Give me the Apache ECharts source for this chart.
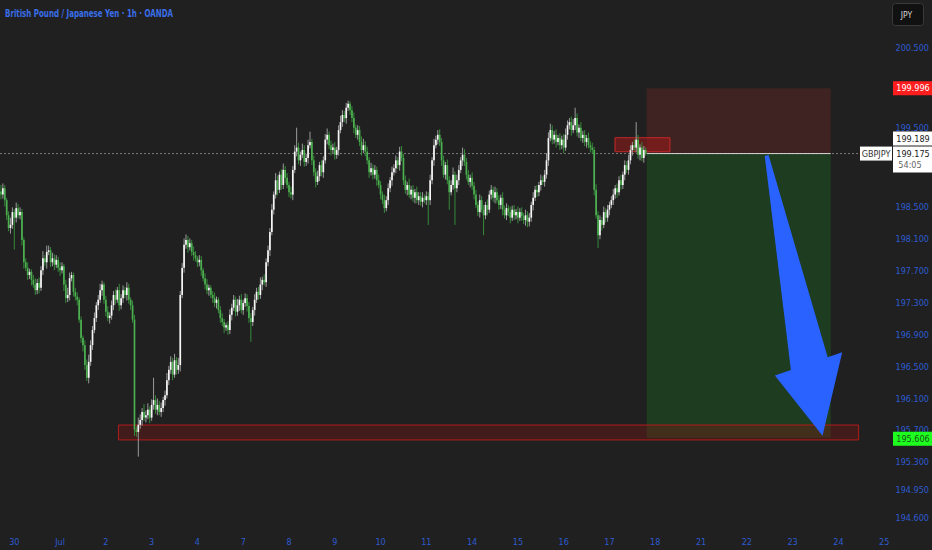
<!DOCTYPE html>
<html><head><meta charset="utf-8">
<script src="https://cdn.jsdelivr.net/npm/echarts@6/dist/echarts.min.js"></script>
<style>html,body{margin:0;padding:0;background:#202020;}#chart{width:932px;height:550px;}</style>
</head><body><div id="chart"></div>
<script>
// ---------- data ----------
const firstOpen = 198.70;
const closes = [
198.66,198.74,198.59,198.40,198.24,198.28,198.44,198.37,198.49,198.40,
198.44,198.09,197.81,197.74,197.65,197.69,197.59,197.53,197.46,197.55,
197.49,197.71,197.86,197.81,197.94,197.96,197.81,197.86,197.78,197.84,
197.74,197.71,197.76,197.53,197.36,197.40,197.61,197.65,197.44,197.38,
197.34,197.09,196.86,196.77,196.52,196.36,196.56,196.77,196.96,197.11,
197.27,197.34,197.46,197.53,197.34,197.19,197.11,197.14,197.27,197.40,
197.34,197.46,197.27,197.36,197.46,197.40,197.49,197.34,197.27,197.09,
195.71,195.68,195.77,195.83,195.93,195.86,195.89,195.96,195.86,196.02,
196.08,195.96,196.02,195.93,195.98,196.08,196.14,196.33,196.46,196.56,
196.40,196.58,196.46,196.52,197.40,197.74,198.03,198.09,198.00,198.05,
197.94,197.90,197.86,197.81,197.84,197.71,197.61,197.53,197.46,197.49,
197.40,197.36,197.30,197.34,197.21,197.11,197.06,196.99,197.02,196.96,
197.15,197.24,197.34,197.19,197.27,197.34,197.21,197.30,197.36,197.26,
197.11,197.06,197.21,197.34,197.44,197.40,197.53,197.59,197.56,197.81,
197.96,198.19,198.47,198.66,198.84,198.72,198.91,198.78,198.97,198.87,
198.78,198.69,198.66,198.97,199.20,199.25,199.09,199.16,199.22,199.07,
199.12,199.28,199.32,199.09,198.94,198.82,198.89,199.03,198.94,199.09,
199.35,199.41,199.28,199.22,199.25,199.16,199.22,199.47,199.57,199.66,
199.62,199.75,199.80,199.72,199.62,199.50,199.41,199.47,199.32,199.22,
199.28,199.20,199.09,198.94,198.99,198.91,198.97,198.84,198.78,198.66,
198.59,198.49,198.59,198.74,198.84,198.94,198.99,199.09,199.03,199.20,
199.12,198.84,198.72,198.78,198.66,198.72,198.62,198.69,198.59,198.64,
198.57,198.62,198.59,198.64,198.59,198.84,199.09,199.28,199.35,199.41,
199.32,199.09,198.91,199.03,198.84,198.69,198.78,198.91,198.74,198.84,
198.97,199.09,199.16,199.07,198.91,198.82,198.87,198.77,198.66,198.53,
198.44,198.59,198.47,198.40,198.53,198.47,198.66,198.72,198.62,198.69,
198.59,198.53,198.62,198.47,198.40,198.49,198.44,198.37,198.47,198.40,
198.44,198.37,198.44,198.39,198.34,198.40,198.32,198.37,198.53,198.62,
198.72,198.69,198.78,198.84,198.82,198.91,199.09,199.37,199.47,199.35,
199.41,199.32,199.37,199.28,199.35,199.25,199.41,199.53,199.57,199.47,
199.53,199.62,199.44,199.50,199.37,199.41,199.32,199.37,199.28,199.25,
199.22,198.72,198.40,198.15,198.34,198.28,198.44,198.37,198.47,198.53,
198.59,198.66,198.74,198.69,198.84,198.78,198.91,199.03,198.97,199.09,
199.22,199.28,199.25,199.35,199.16,199.25,199.12,199.22,199.175
];
// wick lengths in pips (0.01 JPY)
const upWick = [
8,6,4,3,5,9,6,4,7,5, 6,4,3,5,7,4,3,6,8,5, 7,5,9,4,8,6,4,7,5,6, 4,7,5,3,6,9,7,4,3,5,
5,3,4,3,6,7,9,6,5,7, 4,6,8,5,3,5,7,4,6,5, 7,4,8,5,6,4,7,5,3,6, 6,4,9,7,5,10,6,8,4,7,
28,6,8,5,7,4,6,9,5,7, 5,8,4,9,5,6,8,7,5,6, 4,7,5,3,6,5,3,6,7,4, 3,5,7,4,3,5,6,4,3,5,
7,5,6,4,8,5,7,4,6,5, 5,6,4,7,5,6,9,4,7,5, 6,5,7,4,9,6,4,7,8,5, 6,4,7,5,8,25,6,4,8,6,
5,7,13,4,6,5,7,4,6,5, 7,8,4,6,5,7,4,6,8,6, 5,6,4,3,5,7,4,6,5,7, 8,5,6,4,7,5,6,4,7,5,
4,7,5,6,4,7,5,6,4,6, 7,5,6,4,8,5,6,4,7,5, 5,7,4,6,5,7,4,8,5,6, 7,5,6,4,7,5,6,9,4,7,
6,4,9,7,5,6,4,7,5,6, 4,7,5,6,4,7,5,6,4,7, 5,6,4,7,5,6,4,7,5,6, 4,7,5,6,4,7,5,6,4,7,
5,6,4,7,5,6,9,7,8,6, 5,7,4,6,5,7,8,6,5,7, 8,13,6,4,7,5,6,4,7,5, 6,4,7,5,6,4,7,5,6,4,
5,7,4,6,5,7,4,6,5,7, 6,4,7,22,6,4,7,5,3
];
const downWick = [
6,5,8,6,4,7,5,40,6,4, 5,7,8,4,6,5,7,4,6,5, 7,4,6,5,8,4,6,5,7,4, 5,7,4,8,6,5,7,4,6,5,
7,4,6,8,6,4,7,5,6,4, 5,6,4,7,5,6,4,7,5,6, 6,4,7,5,6,4,7,5,6,4, 8,6,31,5,7,4,6,5,7,4,
6,5,7,4,6,5,7,4,6,5, 7,4,6,5,8,4,6,5,7,4, 5,7,4,6,5,7,4,6,5,7, 4,6,5,7,4,6,5,7,4,6,
5,7,4,6,5,7,4,6,5,7, 6,25,5,7,4,6,5,7,4,6, 5,7,4,6,5,7,4,6,5,7, 4,6,5,7,4,6,5,7,4,6,
5,7,4,6,5,7,4,6,5,7, 4,6,5,7,4,6,5,7,4,6, 5,7,4,6,5,7,4,6,5,7, 4,6,5,7,4,6,5,7,4,6,
5,6,4,6,5,7,4,6,5,7, 4,6,5,7,4,6,5,7,4,6, 5,7,4,6,31,6,5,7,4,6, 5,7,4,6,5,22,4,6,46,5,
6,4,7,5,6,4,7,5,6,4, 5,7,4,25,5,7,4,6,5,7, 4,6,5,7,4,6,5,7,4,6, 5,7,4,6,5,7,7,6,5,7,
4,6,5,7,4,6,5,7,4,6, 5,7,4,6,5,7,4,6,5,7, 4,6,5,7,4,6,5,7,4,6, 5,7,4,16,5,7,4,6,5,7,
4,6,5,7,4,6,5,7,4,6, 5,7,4,6,5,7,4,6,3
];
const yTicks = [200.5,199.5,198.5,198.1,197.7,197.3,196.9,196.5,196.1,195.7,195.3,194.95,194.6];
const yRange = [194.424, 201.103];
const slotCount = 487;                      // hourly slots, weekends removed
const firstSlot = Date.UTC(2025, 5, 27, 17);
const monthNames = ['Jan','Feb','Mar','Apr','May','Jun','Jul','Aug','Sep','Oct','Nov','Dec'];
// drawings (slot index, price)
const position = {from: 338.5, to: 435, entry: 199.175, stop: 199.996, target: 195.606};
const supportZone = {from: 61.6, to: 449.6, low: 195.58, high: 195.767};
const entryZone = {from: 321.9, to: 350.7, low: 199.198, high: 199.374};
const arrowPts = [[400.4,199.145],[402.4,199.157],[433.4,196.617],[441.0,196.68],[430.7,195.633],[405.7,196.39],[414.1,196.458]];
const lastPrice = 199.175, prevPrice = 199.189;
const countdown = '54:05';
const symbol = 'GBPJPY';
const titleText = 'British Pound / Japanese Yen · 1h · OANDA';
const currency = 'JPY';

// ---------- build ----------
const FONT = "'DejaVu Sans Condensed','Liberation Sans Narrow','DejaVu Sans',sans-serif";
const categories = [];
for (let t = firstSlot; categories.length < slotCount; t += 3600000) {
  const wd = new Date(t).getUTCDay();
  if (wd !== 0 && wd !== 6) categories.push(String(t));
}
const candles = closes.map((c, i) => {
  const o = i === 0 ? firstOpen : closes[i - 1];
  const hi = Math.max(o, c) + upWick[i] / 100;
  const lo = Math.min(o, c) - downWick[i] / 100;
  return [i, o, c, lo, hi];
});

const chart = echarts.init(document.getElementById('chart'), null, {renderer: 'svg'});

function renderCandle(params, api) {
  const i = api.value(0), o = api.value(1), c = api.value(2), l = api.value(3), h = api.value(4);
  const pO = api.coord([i, o]), pC = api.coord([i, c]), pL = api.coord([i, l]), pH = api.coord([i, h]);
  const up = c >= o;
  const x = pO[0];
  const top = Math.min(pO[1], pC[1]);
  const bh = Math.max(Math.abs(pO[1] - pC[1]), 1);
  return {type: 'group', children: [
    {type: 'line', shape: {x1: x, y1: pH[1], x2: x, y2: pL[1]}, style: {stroke: up ? '#9a9a9a' : '#358a39', lineWidth: 1}},
    {type: 'rect', shape: {x: x - 0.85, y: top, width: 1.7, height: bh}, style: {fill: up ? '#f6f6f6' : '#4caf50'}}
  ]};
}

function renderPosition(params, api) {
  const a = api.coord([position.from, position.stop]);
  const b = api.coord([position.to, position.entry]);
  const c = api.coord([position.to, position.target]);
  const cs = params.coordSys;
  const lineEnd = cs.x + cs.width - 68;
  return {type: 'group', children: [
    {type: 'rect', shape: {x: a[0], y: a[1], width: b[0] - a[0], height: b[1] - a[1]}, style: {fill: '#3e2322'}},
    {type: 'rect', shape: {x: a[0], y: b[1], width: b[0] - a[0], height: c[1] - b[1]}, style: {fill: '#1e3c20'}},
    {type: 'line', shape: {x1: cs.x, y1: b[1], x2: lineEnd, y2: b[1]}, style: {stroke: '#7a7a7a', lineWidth: 1, lineDash: [2, 2]}},
    {type: 'line', shape: {x1: a[0], y1: b[1], x2: b[0], y2: b[1]}, style: {stroke: '#d4d4d4', lineWidth: 1}}
  ]};
}

function zoneRect(api, z, fill, stroke) {
  const a = api.coord([z.from, z.high]);
  const b = api.coord([z.to, z.low]);
  return {type: 'rect', shape: {x: a[0], y: a[1], width: b[0] - a[0], height: b[1] - a[1]}, style: {fill, stroke, lineWidth: 1}};
}

function renderZones(params, api) {
  return {type: 'group', children: [
    zoneRect(api, supportZone, 'rgba(140,20,20,0.32)', '#b01c1c'),
    zoneRect(api, entryZone, 'rgba(180,25,25,0.45)', '#c62828')
  ]};
}

function renderArrow(params, api) {
  return {type: 'polygon', shape: {points: arrowPts.map(p => api.coord(p))}, style: {fill: '#2962ff'}};
}

function renderLabels(params, api) {
  const cs = params.coordSys;
  const right = cs.x + cs.width;
  const yOf = p => api.coord([0, p])[1];
  const box = (x, y, w, h, fill) => ({type: 'rect', shape: {x, y, width: w, height: h}, style: {fill}});
  const txt = (x, y, s, fill) => ({type: 'text', style: {x, y, text: s, fill, font: '9px ' + FONT, align: 'center', verticalAlign: 'middle'}});
  const bx = right - 36, bw = 40, cx = right - 16;
  const yS = yOf(position.stop), yT = yOf(position.target), yL = yOf(lastPrice);
  return {type: 'group', children: [
    box(bx, yS - 7, bw, 14, '#ff1e1e'), txt(cx, yS, position.stop.toFixed(3), '#ffffff'),
    box(bx, yT - 6, bw, 14, '#1fff1f'), txt(cx, yT + 1.5, position.target.toFixed(3), '#145214'),
    box(bx, yL - 22, bw, 14, '#ffffff'), txt(cx, yL - 15, prevPrice.toFixed(3), '#202020'),
    box(bx, yL - 7, bw, 26, '#ffffff'), txt(cx, yL, lastPrice.toFixed(3), '#202020'), txt(cx - 3, yL + 11, countdown, '#666666'),
    box(right - 69, yL - 7, 32, 14, '#ffffff'), txt(right - 53, yL, symbol, '#333333')
  ]};
}

const annot = (name, fn, z) => ({type: 'custom', name, xAxisIndex: 1, yAxisIndex: 0, data: [[0, 197]], renderItem: fn, z, silent: true, clip: false});

chart.setOption({
  backgroundColor: '#202020',
  animation: false,
  graphic: [
    {type: 'text', x: 5, y: 8, scaleX: 0.75, silent: true,
     style: {text: titleText, fill: '#3a6ee8', font: '600 10.5px ' + FONT, textVerticalAlign: 'top'}},
    {type: 'group', right: 8, top: 3, children: [
      {type: 'rect', shape: {x: 0, y: 0, width: 31, height: 22, r: 3}, style: {fill: '#111111', stroke: '#3a3a3a', lineWidth: 1}},
      {type: 'text', style: {x: 14, y: 11, text: currency, fill: '#d6d6d6', font: '8.5px ' + FONT, align: 'center', verticalAlign: 'middle'}}
    ]}
  ],
  grid: {left: 0, right: 3, top: 0, bottom: 18},
  xAxis: [
    {type: 'category', data: categories, boundaryGap: true,
     axisLine: {show: false}, axisTick: {show: false}, splitLine: {show: false},
     axisLabel: {color: '#2d5bd0', fontSize: 9, fontFamily: FONT, margin: 5, hideOverlap: false,
       interval: (idx, v) => new Date(+v).getUTCHours() === 0,
       formatter: v => { const d = new Date(+v); return d.getUTCDate() === 1 ? monthNames[d.getUTCMonth()] : String(d.getUTCDate()); }}},
    {type: 'value', min: -0.5, max: slotCount - 0.5, show: false}
  ],
  yAxis: [{type: 'value', position: 'right', min: yRange[0], max: yRange[1], scale: true,
    axisLine: {show: false}, axisTick: {show: false}, splitLine: {show: false},
    axisLabel: {inside: true, margin: 0, color: '#2d5bd0', fontSize: 9, fontFamily: FONT,
      customValues: yTicks, formatter: v => v.toFixed(3)}}],
  series: [
    annot('position', renderPosition, 1),
    annot('zones', renderZones, 2),
    {type: 'custom', name: 'GBPJPY', xAxisIndex: 0, yAxisIndex: 0, data: candles, encode: {x: 0, y: [1, 2, 3, 4]}, renderItem: renderCandle, z: 3, silent: true},
    annot('arrow', renderArrow, 4),
    annot('labels', renderLabels, 10)
  ]
});
</script></body></html>
